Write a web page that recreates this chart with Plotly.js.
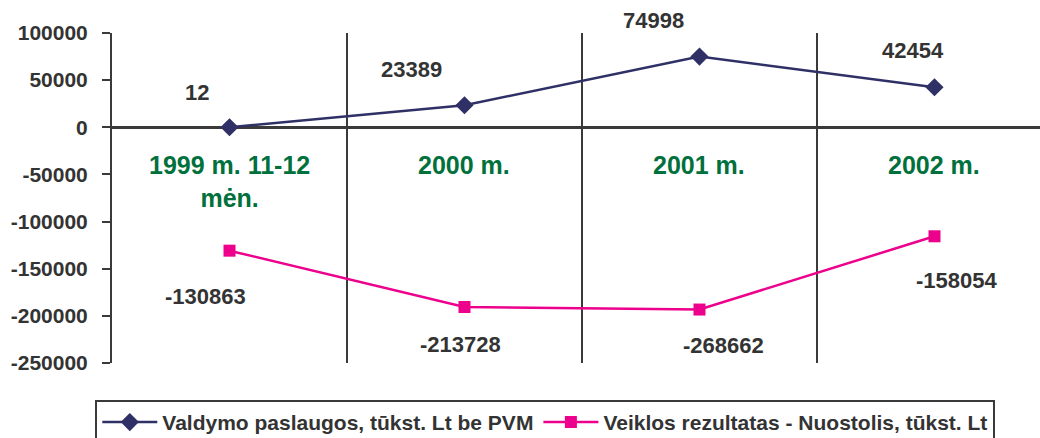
<!DOCTYPE html>
<html>
<head>
<meta charset="utf-8">
<script src="https://cdn.plot.ly/plotly-3.0.1.min.js"></script>
<style>
  html, body { margin: 0; padding: 0; background: #fff; }
  #chart { width: 1040px; height: 438px; }
</style>
</head>
<body>
<div id="chart"></div>
<script>
// Chart data
const categories = ['1999 m. 11-12<br>mėn.', '2000 m.', '2001 m.', '2002 m.'];
const serviceName = 'Valdymo paslaugos, tūkst. Lt be PVM';
const serviceValues = [12, 23389, 74998, 42454];
const resultName = 'Veiklos rezultatas - Nuostolis, tūkst. Lt';
// plotted positions; labels as printed
const resultValues = [-130863, -190600, -193300, -115600];
const resultLabels = ['-130863', '-213728', '-268662', '-158054'];
const yTicks = [100000, 50000, 0, -50000, -100000, -150000, -200000, -250000];

// label offsets (px) around each point
const serviceShift = [[-33, 35], [-53, 36], [-46, 36], [-21, 37]];
const resultShift = [[-24, -46], [-4, -38], [24, -36], [23, -44]];

const colors = {
    service: '#2E3066',
    result: '#EC008C',
    text: '#333333',
    green: '#00703C',
    axis: '#3a3a3a'
};
const fontFamily = '"Liberation Sans", Arial, sans-serif';
const xs = categories.map((c, i) => i);

const traces = [
    {
        x: xs,
        y: serviceValues,
        name: serviceName,
        type: 'scatter',
        mode: 'lines+markers',
        line: { color: colors.service, width: 2.5 },
        marker: { symbol: 'diamond', size: 14, color: colors.service }
    },
    {
        x: xs,
        y: resultValues,
        name: resultName,
        type: 'scatter',
        mode: 'lines+markers',
        line: { color: colors.result, width: 2.5 },
        marker: { symbol: 'square', size: 12, color: colors.result }
    }
];

const annotations = [];
categories.forEach((c, i) => {
    annotations.push({
        x: i, y: 0, xref: 'x', yref: 'y',
        text: c, showarrow: false,
        yanchor: 'top', yshift: -22,
        font: { size: 25, color: colors.green, family: fontFamily, weight: 'bold' }
    });
});
serviceValues.forEach((v, i) => {
    annotations.push({
        x: i, y: v, xref: 'x', yref: 'y',
        text: String(v), showarrow: false,
        xshift: serviceShift[i][0], yshift: serviceShift[i][1],
        font: { size: 22, color: colors.text, family: fontFamily, weight: 'bold' }
    });
});
resultValues.forEach((v, i) => {
    annotations.push({
        x: i, y: v, xref: 'x', yref: 'y',
        text: resultLabels[i], showarrow: false,
        xshift: resultShift[i][0], yshift: resultShift[i][1],
        font: { size: 22, color: colors.text, family: fontFamily, weight: 'bold' }
    });
});

const layout = {
    width: 1040,
    height: 438,
    margin: { l: 112, r: 0, t: 33, b: 75, autoexpand: false },
    paper_bgcolor: '#ffffff',
    plot_bgcolor: '#ffffff',
    font: { family: fontFamily, color: colors.text, size: 21, weight: 'bold' },
    showlegend: true,
    legend: {
        orientation: 'h',
        x: -0.018, xanchor: 'left',
        y: -0.112, yanchor: 'top',
        itemwidth: 55,
        bordercolor: colors.axis,
        borderwidth: 2,
        font: { size: 21, color: colors.text, family: fontFamily, weight: 'bold' }
    },
    xaxis: {
        type: 'linear',
        range: [-0.5, 3.449],
        tickvals: [0.5, 1.5, 2.5],
        showticklabels: false,
        ticks: '',
        showgrid: true,
        gridcolor: colors.axis,
        gridwidth: 2,
        zeroline: false,
        showline: false
    },
    yaxis: {
        range: [-250000, 100000],
        tickvals: yTicks,
        ticktext: yTicks.map(String),
        ticks: 'outside',
        ticklen: 8,
        tickwidth: 2,
        tickcolor: colors.axis,
        ticklabelstandoff: 10,
        tickfont: { size: 21, color: colors.text, family: fontFamily, weight: 'bold' },
        showgrid: false,
        showline: true,
        linecolor: colors.axis,
        linewidth: 2,
        zeroline: true,
        zerolinecolor: colors.axis,
        zerolinewidth: 2.5
    },
    annotations: annotations
};

Plotly.newPlot('chart', traces, layout, { displayModeBar: false, staticPlot: true });
</script>
</body>
</html>
